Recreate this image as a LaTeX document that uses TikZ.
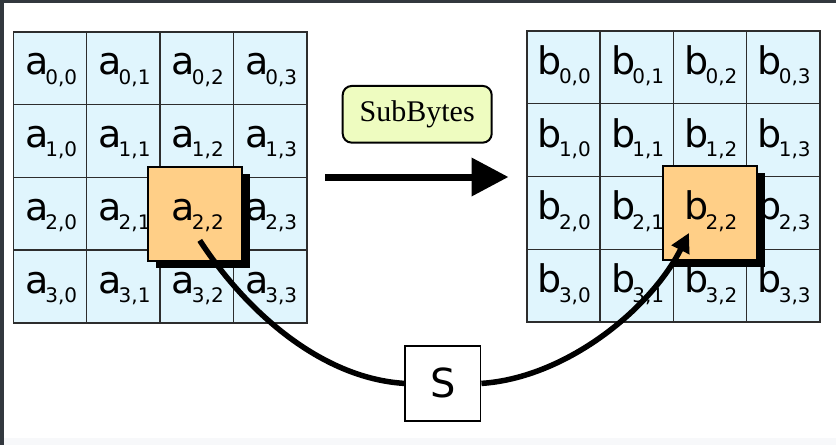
\documentclass[tikz,border=0pt]{standalone}
\usepackage{fontspec}
\setmainfont{DejaVu Sans}
\newfontfamily\serifsb{Liberation Serif}
\usetikzlibrary{arrows.meta,shadows}
\definecolor{cellblue}{RGB}{224,245,253}
\definecolor{hiorange}{RGB}{255,207,135}
\definecolor{sbgreen}{RGB}{238,252,192}
\definecolor{framegray}{RGB}{50,56,62}
\definecolor{gridgray}{RGB}{45,45,45}
\definecolor{bottomgray}{RGB}{247,248,250}
\newcommand\cellt[2]{{\fontsize{38}{38}\selectfont #1}\kern-3pt\raisebox{-9.5pt}{\fontsize{20}{20}\selectfont #2}}
\begin{document}
\begin{tikzpicture}[x=1pt,y=-1pt,
  cellbox/.style={draw=gridgray, line width=1.3pt, fill=cellblue, minimum width=73.3pt, minimum height=72.8pt, inner sep=0pt, outer sep=0pt},
  celltext/.style={anchor=base, inner sep=0pt, text=black},
  hibox/.style={draw=black, line width=2pt, fill=hiorange, minimum size=94pt, inner sep=0pt, outer sep=0pt,
    drop shadow={shadow xshift=8pt, shadow yshift=-7pt, fill=black, opacity=1}},
  sbnode/.style={draw=black, line width=2pt, fill=sbgreen, rounded corners=9pt, minimum width=149pt, minimum height=56.7pt, inner sep=0pt, font=\serifsb\fontsize{30}{30}\selectfont},
  sboxnode/.style={draw=black, line width=1.5pt, fill=white, minimum width=75.7pt, minimum height=74.7pt, inner sep=0pt, font=\fontsize{40}{40}\selectfont},
  thick arrow/.style={line width=7pt, -{Triangle[length=37pt,width=37pt]}},
  curve line/.style={line width=5.5pt}
]
\useasboundingbox (0,0) rectangle (836,445);
\fill[white] (0,0) rectangle (836,445);
\fill[bottomgray] (0,438) rectangle (836,445);
\fill[framegray] (0,0) rectangle (836,3);
\fill[framegray] (0,0) rectangle (4,445);

% state a
\foreach \r in {0,...,3}{\foreach \c in {0,...,3}{
  \node[cellbox] (A\r\c) at ({13.5+73.3*(\c+0.5)},{31.7+72.8*(\r+0.5)}) {};
  \node[celltext] (tA\r\c) at ([xshift=1pt,yshift=-6.5pt]A\r\c.center) {\cellt{a}{\r,\c}};
}}
\draw[gridgray, line width=1.6pt] (A00.north west) rectangle (A33.south east);

% state b
\foreach \r in {0,...,3}{\foreach \c in {0,...,3}{
  \node[cellbox] (B\r\c) at ({526.7+73.3*(\c+0.5)},{30.7+72.9*(\r+0.5)}) {};
  \node[celltext] (tB\r\c) at ([xshift=1pt,yshift=-7pt]B\r\c.center) {\cellt{b}{\r,\c}};
}}
\draw[gridgray, line width=1.6pt] (B00.north west) rectangle (B33.south east);

% highlighted bytes
\node[hibox] (HA) at ([xshift=-1.5pt]A22.center) {};
\node[celltext] (tHA) at ([xshift=1pt,yshift=-6.5pt]A22.center) {\cellt{a}{2,2}};
\node[hibox] (HB) at (B22.center) {};
\node[celltext] (tHB) at ([xshift=1pt,yshift=-7pt]B22.center) {\cellt{b}{2,2}};

% SubBytes label and arrow
\node[sbnode] (SB) at (417.2,114.3) {SubBytes};
\coordinate (h1) at (325,177);
\coordinate (h2) at (508.5,177);
\draw[thick arrow] (h1) -- (h2);

% S-box path
\coordinate (p) at ([xshift=3pt,yshift=-26.7pt]A22.center);
\coordinate (q) at ([xshift=-21pt,yshift=-20pt]B22.center);
\node[sboxnode] (S) at (442.8,383.4) {S};
\draw[curve line] (p) .. controls (245,310) and (320,378) .. (S.west);
\draw[curve line, -{Triangle[length=19pt,width=19pt]}] (S.east) .. controls (565,378) and (650,310) .. (q);
\end{tikzpicture}
\end{document}
